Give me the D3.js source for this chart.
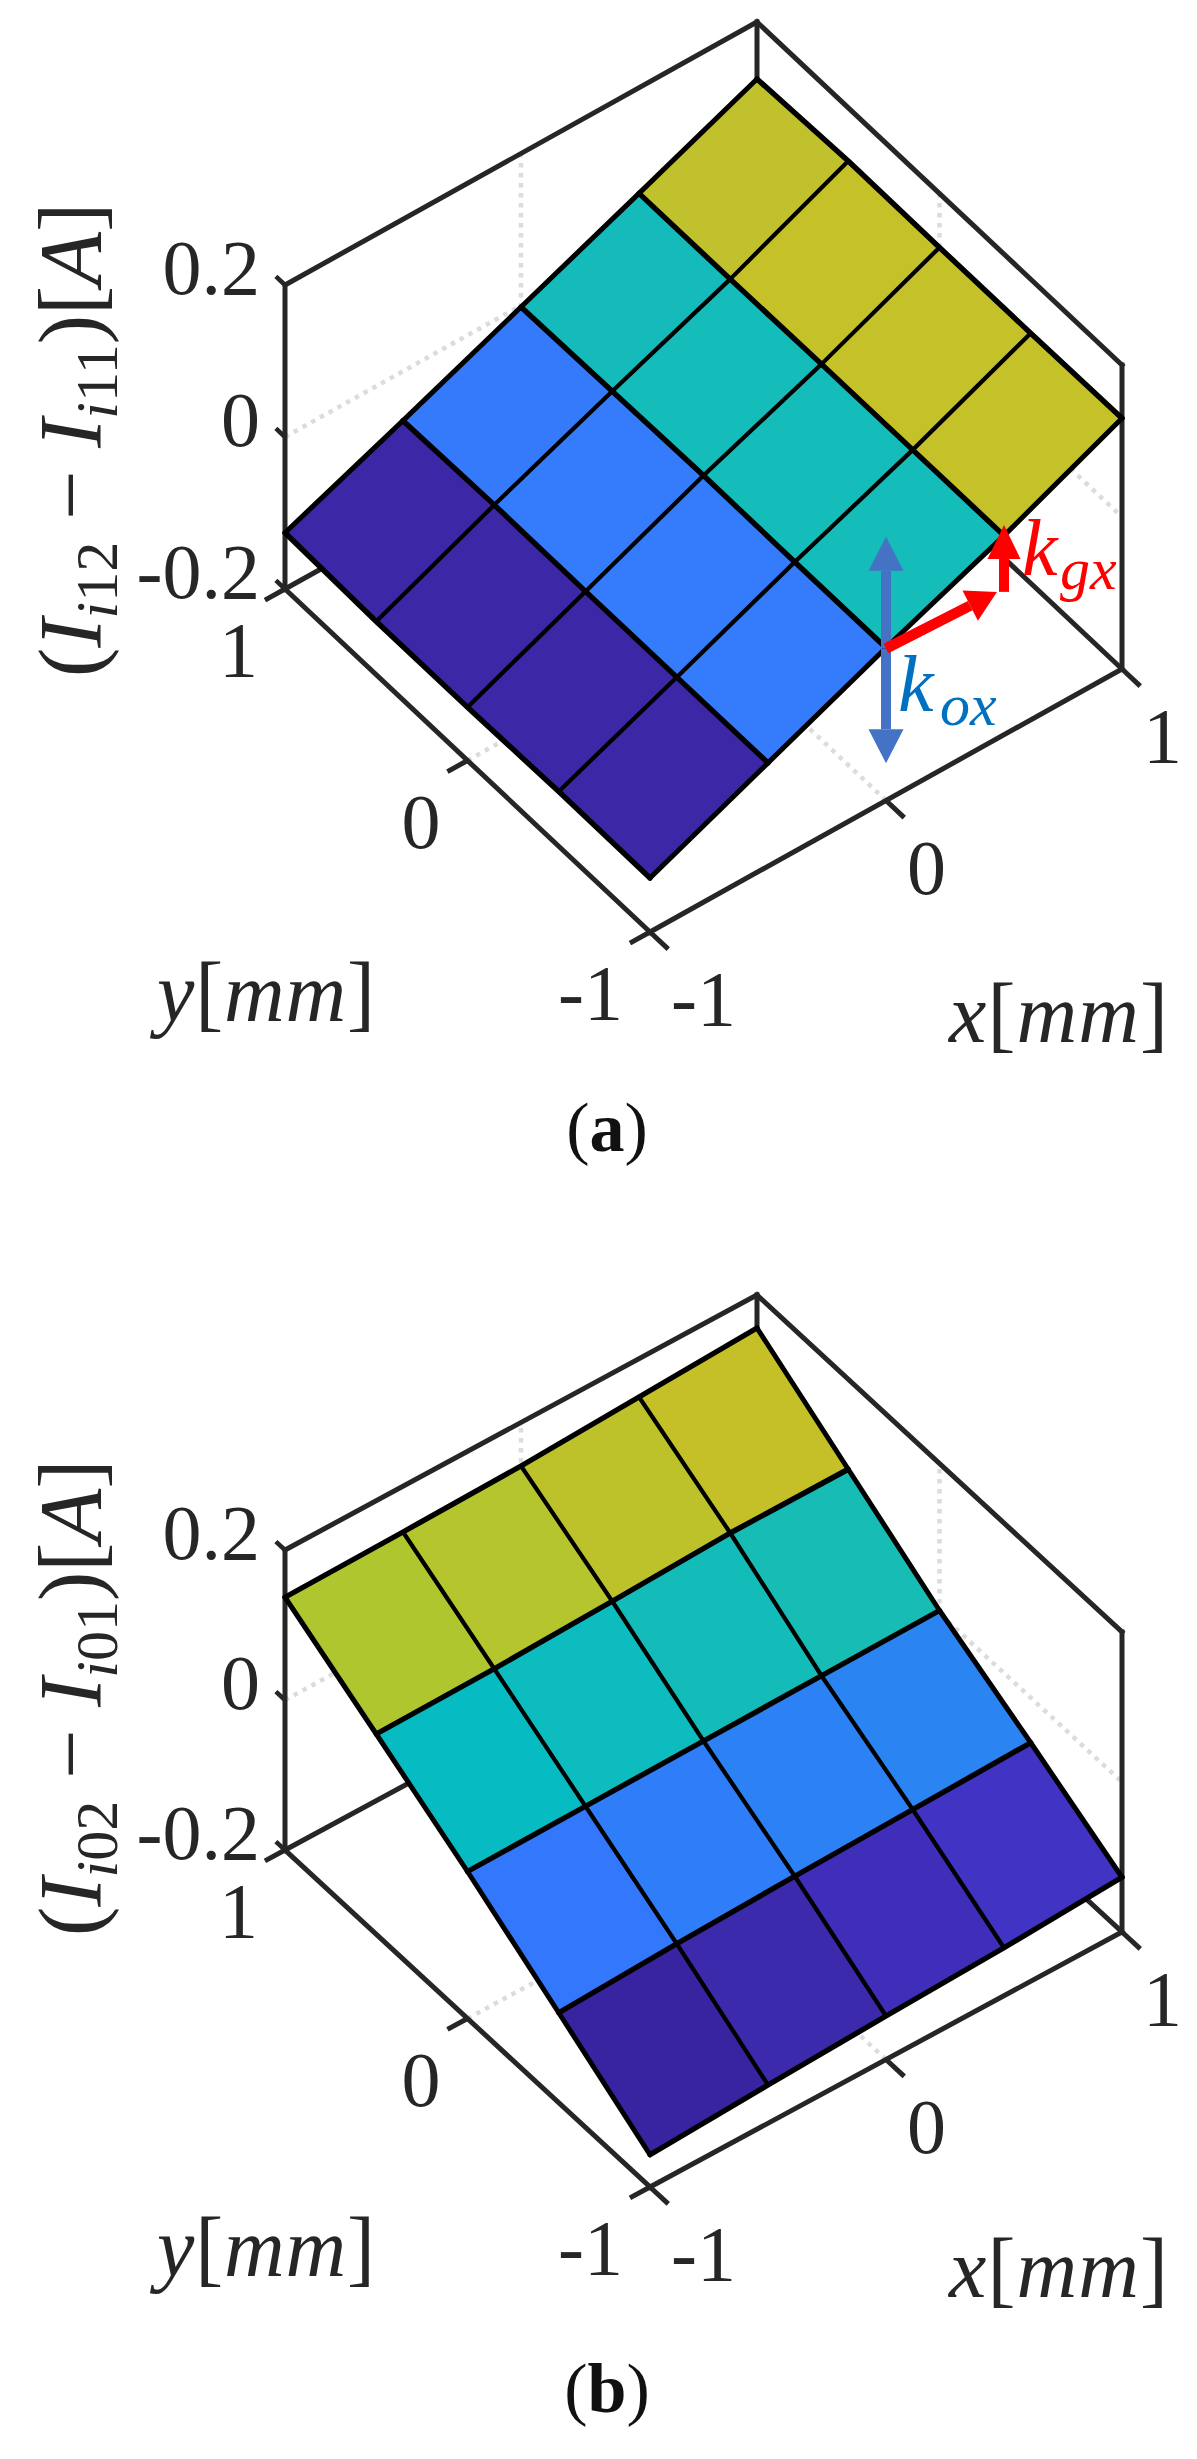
<!DOCTYPE html>
<html><head><meta charset="utf-8">
<script src="https://cdn.jsdelivr.net/npm/d3@7"></script>
<style>
html,body{margin:0;padding:0;background:#fff}
svg{display:block}
text{font-family:"Liberation Serif",serif}
</style></head><body>
<svg id="chart" width="1197" height="2459"></svg>
<script>
// ---- data ----
const xGrid = [-1,-0.5,0,0.5,1];
const yGrid = [-1,-0.5,0,0.5,1];
const xTicks = [-1,0,1];
const yTicks = [-1,0,1];
const zTicks = [-0.2,0,0.2];
const zTickLabels = ["-0.2","0","0.2"];
// surface heights: one row per x value (a), columns follow y
const zSurfaceA = [
  [-0.129,-0.128,-0.130,-0.130,-0.126],
  [-0.064,-0.064,-0.064,-0.063,-0.065],
  [ 0.001, 0.001, 0.002, 0.000,-0.002],
  [ 0.062, 0.062, 0.062, 0.061, 0.061],
  [ 0.130, 0.129, 0.129, 0.130, 0.125]
];
// surface heights: one row per y value (b), columns follow x
const zSurfaceB = [
  [-0.157,-0.149,-0.142,-0.136,-0.127],
  [-0.080,-0.073,-0.068,-0.064,-0.060],
  [-0.004,-0.002, 0.000, 0.002, 0.004],
  [ 0.067, 0.069, 0.074, 0.080, 0.080],
  [ 0.137, 0.139, 0.142, 0.149, 0.156]
];
const colorStopsA = [-0.097,-0.032,0.032,0.096];
const colorValuesA = ["#3c27a6","#347bfc","#14bdb9","#c5c128"];
const colorStopsB = [-0.115,-0.097,-0.040,-0.030,0.0325,0.042,0.103,0.116];
const colorValuesB = ["#38249f","#4133c4","#3377fc","#2a84f2","#07bbc2","#18bdb4","#b0c62e","#c5c028"];
// annotation arrows of panel a, in data units at x, y=-1
const koxArrowZ = [-0.151,0.147];
const koxArrowX = 0;
const kgxStart = [0,0];      // x, z
const kgxCorner = [0.47,-0.007];
const kgxTipZ = [-0.012,0.076];
const kgxTipX = 0.5;

// ---- drawing ----
const svg = d3.select("#chart");
const INK="#262626", GRID="#dcdcdc";

function panel(cfg){
  const g = svg.append("g");
  const fx = d3.scaleLinear().domain([-1,1]).range([0,cfg.xv[0]]);
  const fxY = d3.scaleLinear().domain([-1,1]).range([0,cfg.xv[1]]);
  const fy = d3.scaleLinear().domain([-1,1]).range([0,cfg.yv[0]]);
  const fyY = d3.scaleLinear().domain([-1,1]).range([0,cfg.yv[1]]);
  const fz = d3.scaleLinear().domain([-0.2,0.2]).range([0,-cfg.zh]);
  const P = (x,y,z)=>[cfg.o[0]+fx(x)+fy(y), cfg.o[1]+fxY(x)+fyY(y)+fz(z)];
  const line = d3.line();
  const poly=(pts,o)=>{
    const p=g.append("path").attr("d",line(pts)).attr("fill","none")
      .attr("stroke",o.c).attr("stroke-width",o.w).attr("stroke-linecap",o.cap||"butt")
      .attr("stroke-linejoin","round");
    if(o.dash)p.attr("stroke-dasharray",o.dash);
    return p;
  };
  const seg=(a,b,o)=>poly([a,b],o);
  // grid
  const gs={c:GRID,w:4.5,dash:"4.5 5.5"};
  seg(P(0,1,-0.2),P(0,1,0.2),gs);
  seg(P(1,0,-0.2),P(1,0,0.2),gs);
  seg(P(-1,1,0),P(1,1,0),gs);
  seg(P(1,1,0),P(1,-1,0),gs);
  seg(P(-1,0,-0.2),P(1,0,-0.2),gs);
  seg(P(0,-1,-0.2),P(0,1,-0.2),gs);
  // box
  const bs={c:INK,w:5,cap:"square"};
  [[[-1,1,-0.2],[-1,1,0.2]],[[-1,1,0.2],[1,1,0.2]],[[1,1,0.2],[1,-1,0.2]],
   [[1,-1,0.2],[1,-1,-0.2]],[[1,1,0.2],[1,1,-0.2]],
   [[-1,1,-0.2],[1,1,-0.2]],[[1,-1,-0.2],[1,1,-0.2]],
   [[-1,-1,-0.2],[1,-1,-0.2]],[[-1,-1,-0.2],[-1,1,-0.2]]]
   .forEach(e=>seg(P(...e[0]),P(...e[1]),bs));
  // ticks
  xTicks.forEach(x=>seg(P(x,-1,-0.2),P(x,-1.1,-0.2),{c:INK,w:5}));
  yTicks.forEach(y=>seg(P(-1,y,-0.2),P(-1.085,y,-0.2),{c:INK,w:5}));
  zTicks.forEach(z=>seg(P(-1,1,z),P(-1,1.05,z),{c:INK,w:4.5}));
  // surface
  const colour=d3.scaleLinear().domain(cfg.stops).range(cfg.colors).clamp(true);
  const Z=cfg.Z;
  const cells=[];
  d3.range(4).forEach(i=>d3.range(4).forEach(j=>{
    const v=[[i,j],[i+1,j],[i+1,j+1],[i,j+1]];
    cells.push({pts:v.map(cfg.vertex),z:d3.mean(v,([a,b])=>Z[a][b])});
  }));
  g.selectAll("polygon").data(cells).join("polygon")
    .attr("points",d=>d.pts.map(p=>P(...p).join(",")).join(" "))
    .attr("fill",d=>colour(d.z)).attr("stroke",d=>colour(d.z)).attr("stroke-width",0.5);
  // mesh lines, through every surface vertex
  const idx=d3.range(5);
  idx.forEach(i=>{
    poly(idx.map(j=>P(...cfg.vertex([i,j]))),{c:"#000",w:5.4,cap:"round"});
  });
  idx.forEach(j=>{
    poly(idx.map(i=>P(...cfg.vertex([i,j]))),{c:"#000",w:(j==0||j==4)?5:4.2,cap:"round"});
  });
  // tick labels
  const tk=(s,x,y,a)=>g.append("text").attr("x",x).attr("y",y).attr("text-anchor",a)
    .attr("font-size",78).attr("fill",INK).text(s);
  zTicks.forEach((z,i)=>{const p=P(-1,1,z);tk(zTickLabels[i],p[0]-25,p[1]+9,"end");});
  yTicks.forEach(y=>{const p=P(-1,y,-0.2);tk(String(y),p[0]-27,p[1]+87,"end");});
  xTicks.forEach(x=>{const p=P(x,-1,-0.2);tk(String(x),p[0]+21,p[1]+93,"start");});
  // axis labels
  const [ox,oy]=P(-1,-1,-0.2);
  const ml=(x,y,chars,w)=>{
    const t=g.append("text").attr("x",x).attr("y",y).attr("font-size",84).attr("fill",INK)
      .attr("textLength",w).attr("lengthAdjust","spacing");
    chars.forEach(([s,it])=>t.append("tspan").attr("font-style",it?"italic":"normal").text(s));
  };
  ml(ox-493,oy+89,[["y",1],["[",0],["mm",1],["]",0]],218);
  ml(ox+299,oy+110,[["x",1],["[",0],["mm",1],["]",0]],219);
  // z label
  const lab=g.append("text")
    .attr("transform",`translate(100,${cfg.zLabelY}) rotate(-90)`)
    .attr("font-size",88).attr("fill",INK);
  const sub=(t,s,it)=>t.append("tspan").attr("font-size",60).attr("dy",17)
      .attr("font-style",it?"italic":"normal").text(s);
  lab.append("tspan").text("(");
  lab.append("tspan").attr("font-style","italic").text("I");
  sub(lab,"i",1); lab.append("tspan").attr("font-size",60).text(cfg.sub1);
  lab.append("tspan").attr("dy",-17).text(" − ");
  lab.append("tspan").attr("font-style","italic").text("I");
  sub(lab,"i",1); lab.append("tspan").attr("font-size",60).text(cfg.sub2);
  lab.append("tspan").attr("dy",-17).text(")[");
  lab.append("tspan").attr("font-style","italic").text("A");
  lab.append("tspan").text("]");
  // caption
  const cap=g.append("text").attr("x",607).attr("y",oy+cfg.capDy).attr("text-anchor","middle")
    .attr("font-size",70).attr("fill","#111");
  cap.append("tspan").text("(");
  cap.append("tspan").attr("font-weight","bold").text(cfg.cap);
  cap.append("tspan").text(")");
  return {g,P};
}

const A=panel({o:[650,932],xv:[472,-263],yv:[-365,-343],zh:304,Z:zSurfaceA,
  vertex:([i,j])=>[xGrid[i],yGrid[j],zSurfaceA[i][j]],
  stops:colorStopsA,colors:colorValuesA,sub1:"12",sub2:"11",zLabelY:677,cap:"a",capDy:219});
panel({o:[650,2187],xv:[472,-255],yv:[-365,-337],zh:300,Z:zSurfaceB,
  vertex:([i,j])=>[xGrid[j],yGrid[i],zSurfaceB[i][j]],
  stops:colorStopsB,colors:colorValuesB,sub1:"02",sub2:"01",zLabelY:1936,cap:"b",capDy:225});

// annotations of panel a
function arrow(g,a,b,col,w,hl,hw){
  const dx=b[0]-a[0],dy=b[1]-a[1],L=Math.hypot(dx,dy),ux=dx/L,uy=dy/L;
  const base=[b[0]-ux*hl,b[1]-uy*hl];
  g.append("path").attr("d",d3.line()([a,base])).attr("stroke",col).attr("stroke-width",w).attr("fill","none");
  g.append("path").attr("d",d3.line()([b,[base[0]-uy*hw/2,base[1]+ux*hw/2],[base[0]+uy*hw/2,base[1]-ux*hw/2]])+"Z").attr("fill",col);
}
const P=A.P, G=A.g;
const kMid=P(koxArrowX,-1,0);
arrow(G,kMid,P(koxArrowX,-1,koxArrowZ[1]),"#4472c4",10,34,35);
arrow(G,kMid,P(koxArrowX,-1,koxArrowZ[0]),"#4472c4",10,34,35);
arrow(G,P(kgxStart[0],-1,kgxStart[1]),P(kgxCorner[0],-1,kgxCorner[1]),"#ff0000",10.5,30,34);
arrow(G,P(kgxTipX,-1,kgxTipZ[0]),P(kgxTipX,-1,kgxTipZ[1]),"#ff0000",10,34,33);
const sym=(x,y,s,subS,col,sx)=>{
  G.append("text").attr("x",x).attr("y",y).attr("font-size",80).attr("font-style","italic").attr("fill",col).text(s);
  G.append("text").attr("x",sx).attr("y",y+14).attr("font-size",60).attr("font-style","italic").attr("fill",col).text(subS);
};
const pk=P(koxArrowX,-1,-0.2);
sym(pk[0]+12,pk[1]-90,"k","ox","#0070c0",pk[0]+54);
const pg=P(kgxTipX,-1,-0.2);
sym(pg[0]+18,pg[1]-160,"k","gx","#ff0000",pg[0]+56);
</script>
</body></html>
